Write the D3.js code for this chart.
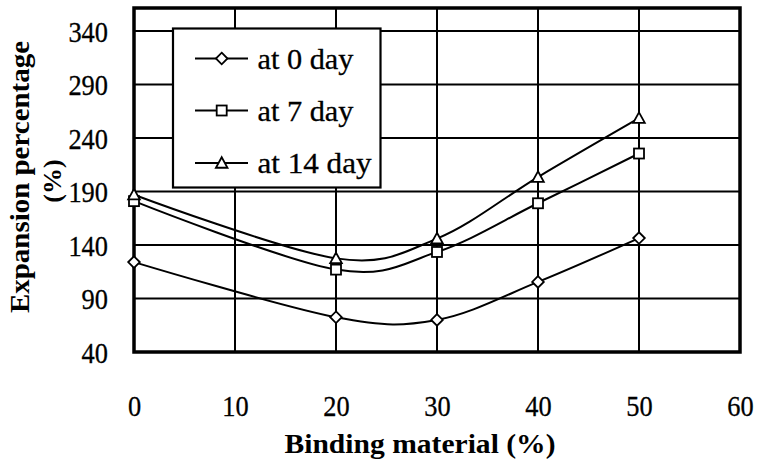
<!DOCTYPE html>
<html>
<head>
<meta charset="utf-8">
<script src="https://cdn.jsdelivr.net/npm/d3@7"></script>
<style>
  html, body { margin: 0; padding: 0; background: #fff; }
  svg { display: block; }
  text { font-family: "Liberation Serif", "Times New Roman", serif; fill: #000; }
  .reg { stroke: #000; stroke-width: 0.3px; }
</style>
</head>
<body>
<svg id="chart" width="758" height="468"></svg>
<script>
// ---- Data ----
const binding = [0, 20, 30, 40, 50];
const day0 = [124, 72.5, 70, 105.5, 146.5];
const day7 = [181, 117, 133.5, 179, 225.5];
const day14 = [187, 127.5, 146, 203.5, 258.5];
const seriesNames = ["at 0 day", "at 7 day", "at 14 day"];
const seriesMarkers = ["diamond", "square", "triangle"];
const xTicks = [0, 10, 20, 30, 40, 50, 60];
const yTicks = [40, 90, 140, 190, 240, 290, 340];
const xTitle = "Binding material (%)";
const yTitle1 = "Expansion percentage";
const yTitle2 = "(%)";

const series = [day0, day7, day14].map((vals, i) => ({
  name: seriesNames[i],
  marker: seriesMarkers[i],
  points: binding.map((b, j) => ({ x: b, y: vals[j] }))
}));

// ---- Layout ----
const plot = { left: 134, right: 740, top: 8, bottom: 352 };
const svg = d3.select("#chart");

const x = d3.scaleLinear().domain([0, 60]).range([plot.left, plot.right]);
const y = d3.scaleLinear().domain([40, 361.5]).range([plot.bottom, plot.top]);

// gridlines
const grid = svg.append("g");
grid.selectAll("line.v").data(xTicks.slice(1, -1)).join("line")
  .attr("x1", d => x(d)).attr("x2", d => x(d))
  .attr("y1", plot.top).attr("y2", plot.bottom)
  .attr("stroke", "#000").attr("stroke-width", 2);
grid.selectAll("line.h").data(yTicks.slice(1)).join("line")
  .attr("x1", plot.left).attr("x2", plot.right)
  .attr("y1", d => y(d)).attr("y2", d => y(d))
  .attr("stroke", "#000").attr("stroke-width", 2);

function condense(sel, f) {
  sel.each(function () {
    const w = this.getComputedTextLength();
    d3.select(this).attr("textLength", w * f).attr("lengthAdjust", "spacingAndGlyphs");
  });
}

// axes labels using d3 axes (no domain / tick lines)
const xAxis = svg.append("g").attr("transform", `translate(0,${plot.bottom})`)
  .call(d3.axisBottom(x).tickValues(xTicks).tickSize(0).tickPadding(0).tickFormat(d3.format("d")));
xAxis.select(".domain").remove();
xAxis.selectAll("text").attr("font-size", 30).attr("dy", null).attr("y", 63.5)
  .attr("fill", "#000").attr("class", "reg");
condense(xAxis.selectAll("text"), 0.88);

const yAxis = svg.append("g").attr("transform", `translate(${plot.left},0)`)
  .call(d3.axisLeft(y).tickValues(yTicks).tickSize(0).tickPadding(0).tickFormat(d3.format("d")));
yAxis.select(".domain").remove();
yAxis.selectAll("text").attr("font-size", 30).attr("x", -26).attr("dy", "0.34em")
  .attr("fill", "#000").attr("class", "reg");
condense(yAxis.selectAll("text"), 0.88);

// series lines
const line = d3.line().x(d => x(d.x)).y(d => y(d.y)).curve(d3.curveCardinal.tension(0));
svg.append("g").selectAll("path").data(series).join("path")
  .attr("d", d => line(d.points))
  .attr("fill", "none").attr("stroke", "#000").attr("stroke-width", 2);

// plot border
svg.append("rect")
  .attr("x", plot.left).attr("y", plot.top)
  .attr("width", plot.right - plot.left).attr("height", plot.bottom - plot.top)
  .attr("fill", "none").attr("stroke", "#000").attr("stroke-width", 3.5);

// markers
function drawMarker(g, type, cx, cy) {
  if (type === "diamond") {
    const r = 5.8;
    g.append("path").attr("d", `M${cx},${cy - r}L${cx + r},${cy}L${cx},${cy + r}L${cx - r},${cy}Z`)
      .attr("fill", "#fff").attr("stroke", "#000").attr("stroke-width", 1.8);
  } else if (type === "square") {
    const s = 10;
    g.append("rect").attr("x", cx - s / 2).attr("y", cy - s / 2).attr("width", s).attr("height", s)
      .attr("fill", "#fff").attr("stroke", "#000").attr("stroke-width", 1.8);
  } else {
    const hw = 5.8, h = 10.5;
    g.append("path").attr("d", `M${cx},${cy - h * 0.55}L${cx + hw},${cy + h * 0.45}L${cx - hw},${cy + h * 0.45}Z`)
      .attr("fill", "#fff").attr("stroke", "#000").attr("stroke-width", 1.8);
  }
}
const mg = svg.append("g");
series.forEach(s => s.points.forEach(p => drawMarker(mg, s.marker, x(p.x), y(p.y))));

// legend
const lg = svg.append("g");
lg.append("rect").attr("x", 173).attr("y", 28.5).attr("width", 207.5).attr("height", 159)
  .attr("fill", "#fff").attr("stroke", "#000").attr("stroke-width", 2.2);
const rowY = [58.5, 110.5, 163];
const legendTextLen = [96, 96, 114];
series.forEach((s, i) => {
  const cy = rowY[i];
  lg.append("line").attr("x1", 195).attr("x2", 248).attr("y1", cy).attr("y2", cy)
    .attr("stroke", "#000").attr("stroke-width", 2);
  drawMarker(lg, s.marker, 221.7, cy);
  lg.append("text").attr("x", 257.5).attr("y", cy + 10).attr("font-size", 30).attr("class", "reg")
    .attr("textLength", legendTextLen[i]).attr("lengthAdjust", "spacingAndGlyphs")
    .text(s.name);
});

// axis titles
svg.append("text").attr("x", 420).attr("y", 453).attr("text-anchor", "middle")
  .attr("font-size", 28).attr("font-weight", "bold")
  .attr("textLength", 271).attr("lengthAdjust", "spacingAndGlyphs").text(xTitle);

svg.append("text").attr("transform", "translate(29,177) rotate(-90)")
  .attr("text-anchor", "middle").attr("font-size", 27).attr("font-weight", "bold")
  .attr("textLength", 272).attr("lengthAdjust", "spacingAndGlyphs").text(yTitle1);
svg.append("text").attr("transform", "translate(61,181) rotate(-90)")
  .attr("text-anchor", "middle").attr("font-size", 26).attr("font-weight", "bold").text(yTitle2);
</script>
</body>
</html>
